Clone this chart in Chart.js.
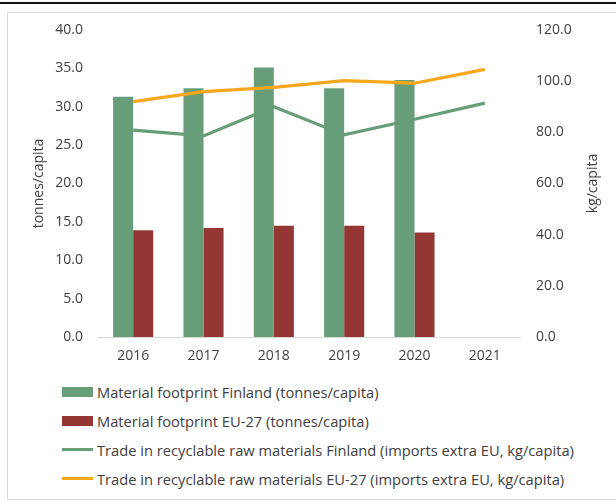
<!DOCTYPE html>
<html>
<head>
<meta charset="utf-8">
<script src="https://cdn.jsdelivr.net/npm/chart.js@4"></script>
<style>
  html, body { margin: 0; padding: 0; background: #fff; }
  #wrap { position: relative; width: 616px; height: 502px; overflow: hidden; font-family: "Open Sans", sans-serif; color: #404040; }
  #topline { position: absolute; left: 0; top: 2px; width: 616px; height: 2px; background: #111; }
  #frame { position: absolute; left: 7px; top: 12px; width: 620px; height: 488px; border: 1px solid #d9d9d9; box-sizing: border-box; }
  #cv { position: absolute; left: 0; top: 0; }
  #legend { position: absolute; left: 62px; top: 377px; font-size: 14.7px; }
  .item { display: flex; align-items: center; height: 29px; white-space: nowrap; }
  .sw { width: 31px; margin-right: 4px; }
</style>
</head>
<body>
<div id="wrap">
  <div id="topline"></div>
  <div id="frame"></div>
  <canvas id="cv" width="616" height="372"></canvas>
  <div id="legend"></div>
</div>
<script>
const years = ["2016", "2017", "2018", "2019", "2020", "2021"];
const footprintFinland = [31.3, 32.4, 35.1, 32.4, 33.5, null];
const footprintEU = [13.9, 14.2, 14.5, 14.5, 13.6, null];
const tradeFinland = [80.9, 78.6, 90.0, 79.0, 85.1, 91.4];
const tradeEU = [92.0, 95.9, 97.6, 100.2, 99.2, 104.6];
const leftTicks = [0, 5, 10, 15, 20, 25, 30, 35, 40];
const rightTicks = [0, 20, 40, 60, 80, 100, 120];

const GREEN = "#679e79", RED = "#943634", ORANGE = "#f9a61b", TXT = "#404040";
const FONT = { family: "Open Sans", size: 14 };

const datasets = [
  { type: "bar", label: "Material footprint Finland (tonnes/capita)", data: footprintFinland, backgroundColor: GREEN, yAxisID: "y", order: 2, categoryPercentage: 0.57, barPercentage: 1.0 },
  { type: "bar", label: "Material footprint EU-27 (tonnes/capita)", data: footprintEU, backgroundColor: RED, yAxisID: "y", order: 2, categoryPercentage: 0.57, barPercentage: 1.0 },
  { type: "line", label: "Trade in recyclable raw materials Finland (imports extra EU, kg/capita)", data: tradeFinland, borderColor: GREEN, backgroundColor: GREEN, borderWidth: 3.2, pointRadius: 0, tension: 0, yAxisID: "y1", order: 1 },
  { type: "line", label: "Trade in recyclable raw materials EU-27 (imports extra EU, kg/capita)", data: tradeEU, borderColor: ORANGE, backgroundColor: ORANGE, borderWidth: 3.2, pointRadius: 0, tension: 0, yAxisID: "y1", order: 0 }
];

const rightTitle = {
  id: "rightTitle",
  afterDraw(c) {
    const ctx = c.ctx, a = c.chartArea;
    ctx.save();
    ctx.fillStyle = TXT;
    ctx.font = FONT.size + "px '" + FONT.family + "'";
    ctx.textAlign = "center";
    ctx.textBaseline = "middle";
    ctx.translate(593, (a.top + a.bottom) / 2);
    ctx.rotate(-Math.PI / 2);
    ctx.fillText("kg/capita", 0, 0);
    ctx.restore();
  }
};

const chart = new Chart(document.getElementById("cv"), {
  data: { labels: years, datasets: datasets },
  plugins: [rightTitle],
  options: {
    responsive: false,
    animation: false,
    layout: { padding: { top: 30, bottom: 0, left: 0, right: 0 } },
    plugins: { legend: { display: false }, tooltip: { enabled: false } },
    scales: {
      x: {
        grid: { display: false, drawTicks: false },
        border: { display: true, color: "#d9d9d9", width: 1 },
        ticks: { color: TXT, font: FONT, padding: 11 },
        afterFit: s => { s.height = 35; }
      },
      y: {
        position: "left", min: 0, max: 40,
        afterBuildTicks: s => { s.ticks = leftTicks.map(v => ({ value: v })); },
        grid: { display: false, drawTicks: false },
        border: { display: false },
        ticks: { color: TXT, font: FONT, padding: 15, callback: v => v.toFixed(1) },
        title: { display: true, text: "tonnes/capita", color: TXT, font: FONT, padding: { top: 31, bottom: 0 } },
        afterFit: s => { s.width = 98; }
      },
      y1: {
        position: "right", min: 0, max: 120,
        afterBuildTicks: s => { s.ticks = rightTicks.map(v => ({ value: v })); },
        grid: { display: false, drawTicks: false },
        border: { display: false },
        ticks: { color: TXT, font: FONT, padding: 16, callback: v => v.toFixed(1) },
        title: { display: false },
        afterFit: s => { s.width = 96; }
      }
    }
  }
});

const lg = document.getElementById("legend");
chart.data.datasets.forEach(ds => {
  const row = document.createElement("div");
  row.className = "item";
  const sw = document.createElement("span");
  sw.className = "sw";
  sw.style.height = ds.type === "bar" ? "10px" : "3px";
  sw.style.background = ds.type === "bar" ? ds.backgroundColor : ds.borderColor;
  const tx = document.createElement("span");
  tx.textContent = ds.label;
  row.appendChild(sw);
  row.appendChild(tx);
  lg.appendChild(row);
});
</script>
</body>
</html>
